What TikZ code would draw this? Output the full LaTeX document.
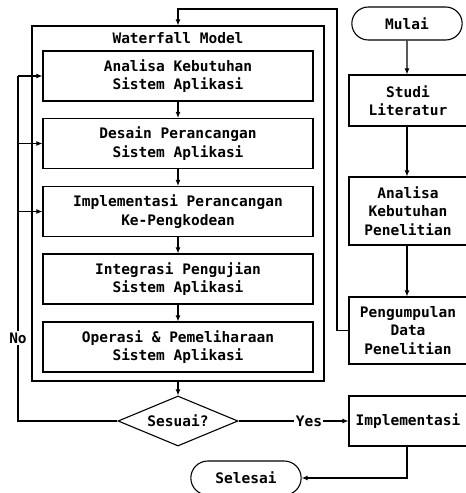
\documentclass[tikz,border=0pt]{standalone}
\usepackage{fontspec}
\setmainfont{DejaVu Sans Mono}
\usetikzlibrary{shapes.geometric,shapes.misc,arrows.meta}
\begin{document}
\begin{tikzpicture}[x=1pt,y=-1pt,
  font=\fontsize{14.5}{18.5}\selectfont\bfseries,
  every path/.style={line width=1.1pt},
  line/.style ={draw, -{Latex[length=6pt,width=5pt]}},
  frame/.style ={rectangle, draw, minimum width=292pt, minimum height=355pt},
  stage/.style ={rectangle, draw, align=center, minimum width=270pt,
    minimum height=50pt},
  task/.style ={rectangle, draw, align=center, minimum width=118pt,
    text width=110pt, inner sep=2pt},
  term/.style ={rounded rectangle, draw, minimum width=117pt,
    minimum height=33pt},
  check/.style ={diamond, draw, minimum width=120pt, minimum height=50pt,
    aspect=2.4, inner sep=0pt},
  tag/.style ={fill=white, inner sep=1.5pt}
]
\useasboundingbox (0,0) rectangle (466,493);
% waterfall model
\node (wf) at (178,203.5) [frame] {};
\node (wft) at (178,38) {Waterfall Model};
\node (b1) at (178,76) [stage] {Analisa Kebutuhan\\Sistem Aplikasi};
\node (b2) at (178,143.5) [stage] {Desain Perancangan\\Sistem Aplikasi};
\node (b3) at (178,211.5) [stage] {Implementasi Perancangan\\Ke-Pengkodean};
\node (b4) at (178,279) [stage] {Integrasi Pengujian\\Sistem Aplikasi};
\node (b5) at (178,347) [stage] {Operasi \& Pemeliharaan\\Sistem Aplikasi};
\node (ss) at (178,421) [check] {Sesuai?};
% research steps
\node (mulai) at (407,23.5) [term] {Mulai};
\node (sl) at (408,100.5) [task, minimum height=51pt] {Studi\\Literatur};
\node (akp) at (408,211) [task, minimum height=68pt] {Analisa\\Kebutuhan\\Penelitian};
\node (pd) at (408,330.5) [task, minimum height=67pt] {Pengumpulan\\Data\\Penelitian};
\node (impl) at (408,421) [task, minimum height=50pt] {Implementasi};
\node (selesai) at (246,478) [term, minimum height=34pt] {Selesai};
\coordinate (ret) at (337,9);
\coordinate (fb) at (18,76);
% connectors
\path [line] (b1) -- (b2);
\path [line] (b2) -- (b3);
\path [line] (b3) -- (b4);
\path [line] (b4) -- (b5);
\path [line] (wf) -- (ss);
\path [line] (mulai) -- (mulai |- sl.north);
\path [line] (sl.south -| mulai) -- (mulai |- akp.north);
\path [line] (akp.south -| mulai) -- (mulai |- pd.north);
\path [line] (pd.west) -| (ret) -| (wf.north);
\draw (ss.west) -| node [tag, pos=0.62] {No} (fb);
\path [line] (fb) -- (b1.west);
\path [line] (b2.west -| fb) -- (b2.west);
\path [line] (b3.west -| fb) -- (b3.west);
\path [line] (ss.east) -- node [tag, pos=0.64] {Yes} (impl.west);
\path [line] (impl.south -| mulai) |- (selesai.east);
\end{tikzpicture}
\end{document}
